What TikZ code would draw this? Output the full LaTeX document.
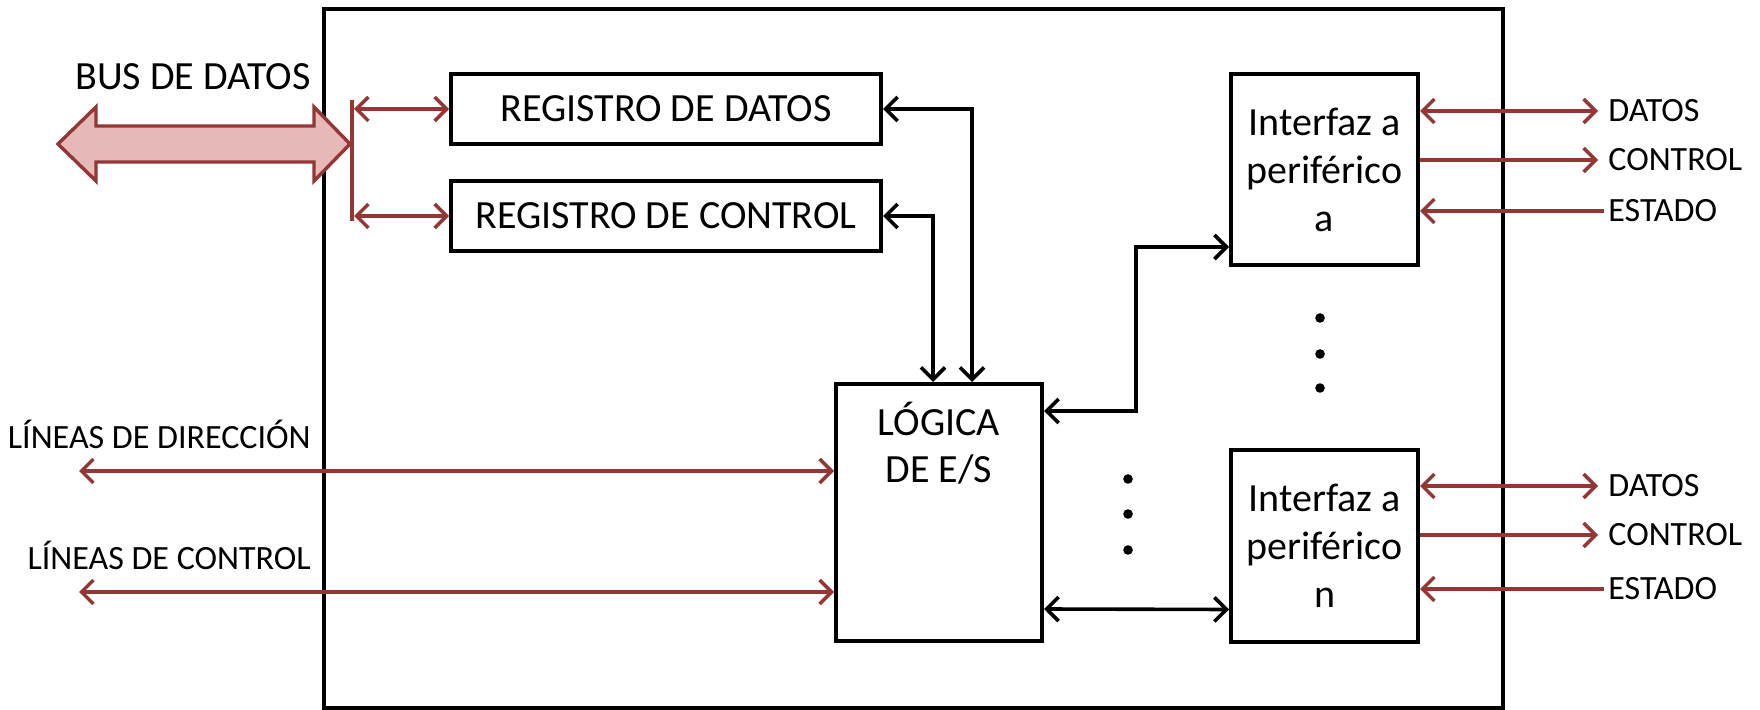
\documentclass[tikz,border=0pt]{standalone}
\usepackage{fontspec}
\setmainfont{Carlito}
\usepackage{tikz}
\usetikzlibrary{arrows.meta,calc,positioning}
\definecolor{busred}{RGB}{148,54,52}
\definecolor{buspink}{RGB}{230,185,184}
\tikzset{
  frame/.style={draw=black,line width=2pt},
  regbox/.style={draw=black,line width=2pt,minimum width=215pt,minimum height=35pt,
    inner sep=0pt,font=\fontsize{20}{22}\selectfont},
  logicbox/.style={draw=black,line width=2pt,minimum width=103pt,minimum height=128.5pt},
  periphbox/.style={draw=black,line width=2pt,minimum width=93.5pt,minimum height=95.5pt,
    inner sep=0pt,align=center,font=\fontsize{20}{24}\selectfont},
  plain/.style={inner sep=0pt,font=\fontsize{20}{23.5}\selectfont},
  sidelabel/.style={inner sep=0pt,font=\fontsize{17}{20}\selectfont},
  busfill/.style={draw=busred,fill=buspink,line width=1.7pt,line join=miter},
  redlink/.style={draw=busred,line width=1.7pt,>={Straight Barb[length=6pt,width=12pt]}},
  link/.style={draw=black,line width=1.8pt,>={Straight Barb[length=6pt,width=12pt]}},
  dot/.style={circle,fill=black,inner sep=0pt,minimum size=4.8pt}
}

\begin{document}
\begin{tikzpicture}[x=0.5pt,y=-0.5pt]
  \useasboundingbox (0,0) rectangle (1760,710);
  % module outline
  \draw[frame] (324,9) rectangle (1503,708);

  % registers and logic
  \node[regbox] (regdat) at (666,109) {REGISTRO DE DATOS};
  \node[regbox,below=16.5pt of regdat] (regctl) {REGISTRO DE CONTROL};
  \node[logicbox] (logica) at (939,512.5) {};
  \node[plain,align=center] (logicatxt) at ($(logica.north)+(0,61.5)$) {LÓGICA\\DE E/S};
  \node[periphbox] (perA) at (1324.5,169.5) {Interfaz a\\periférico\\a};
  \node[periphbox] (perN) at (1324.5,546) {Interfaz a\\periférico\\n};

  % data bus
  \node[plain,anchor=base east] (buslbl) at (311,90) {BUS DE DATOS};
  \draw[busfill] (58,144) -- (96,107) -- (96,126) -- (314,126) -- (314,107)
    -- (350,144) -- (314,181) -- (314,162) -- (96,162) -- (96,181) -- cycle;
  \coordinate (bartop) at (352,100);
  \coordinate (barbot) at (352,221);
  \draw[redlink] (bartop) -- (barbot);
  \draw[redlink,<->] ([xshift=1pt]bartop |- regdat.west) -- (regdat.west);
  \draw[redlink,<->] ([xshift=1pt]bartop |- regctl.west) -- (regctl.west);

  % address and control lines
  \node[sidelabel,anchor=base east] (dirlbl) at (311,449) {LÍNEAS DE DIRECCIÓN};
  \coordinate (dirend) at (79,471);
  \draw[redlink,<->] (dirend) -- (dirend -| logica.west);
  \node[sidelabel,anchor=base east] (ctllbl) at (311,569) {LÍNEAS DE CONTROL};
  \coordinate (ctlend) at (79,592);
  \draw[redlink,<->] (ctlend) -- (ctlend -| logica.west);

  % internal links
  \draw[link,<->] (regdat.east) -| ([xshift=16.5pt]logica.north);
  \draw[link,<->] (regctl.east) -| ([xshift=-3pt]logica.north);
  \draw[link,<->] ([yshift=-14.5pt]logica.north east) -- ++(46pt,0)
    |- ([yshift=10pt]perA.south west);
  \draw[link,<->] ([yshift=17pt]logica.south east) -- ([yshift=17pt]perN.south west);

  % peripheral a signals
  \node[sidelabel,anchor=west] (datA) at (1608,111) {DATOS};
  \node[sidelabel,anchor=west] (ctlA) at (1608,160) {CONTROL};
  \node[sidelabel,anchor=west] (estA) at (1608,211) {ESTADO};
  \draw[redlink,<->] (datA.west -| perA.east) -- ([xshift=-5pt]datA.west);
  \draw[redlink,->] (ctlA.west -| perA.east) -- ([xshift=-5pt]ctlA.west);
  \draw[redlink,<-] (estA.west -| perA.east) -- ([xshift=-2pt]estA.west);

  % peripheral n signals
  \node[sidelabel,anchor=west] (datN) at (1608,486) {DATOS};
  \node[sidelabel,anchor=west] (ctlN) at (1608,535) {CONTROL};
  \node[sidelabel,anchor=west] (estN) at (1608,589) {ESTADO};
  \draw[redlink,<->] (datN.west -| perN.east) -- ([xshift=-5pt]datN.west);
  \draw[redlink,->] (ctlN.west -| perN.east) -- ([xshift=-5pt]ctlN.west);
  \draw[redlink,<-] (estN.west -| perN.east) -- ([xshift=-2pt]estN.west);

  % ellipsis dots
  \node[dot] (vd1) at (1320,318) {};
  \node[dot] (vd2) at (1320,354) {};
  \node[dot] (vd3) at (1320,388) {};
  \node[dot] (md1) at (1128,479) {};
  \node[dot] (md2) at (1128,514) {};
  \node[dot] (md3) at (1128,550) {};
\end{tikzpicture}
\end{document}
